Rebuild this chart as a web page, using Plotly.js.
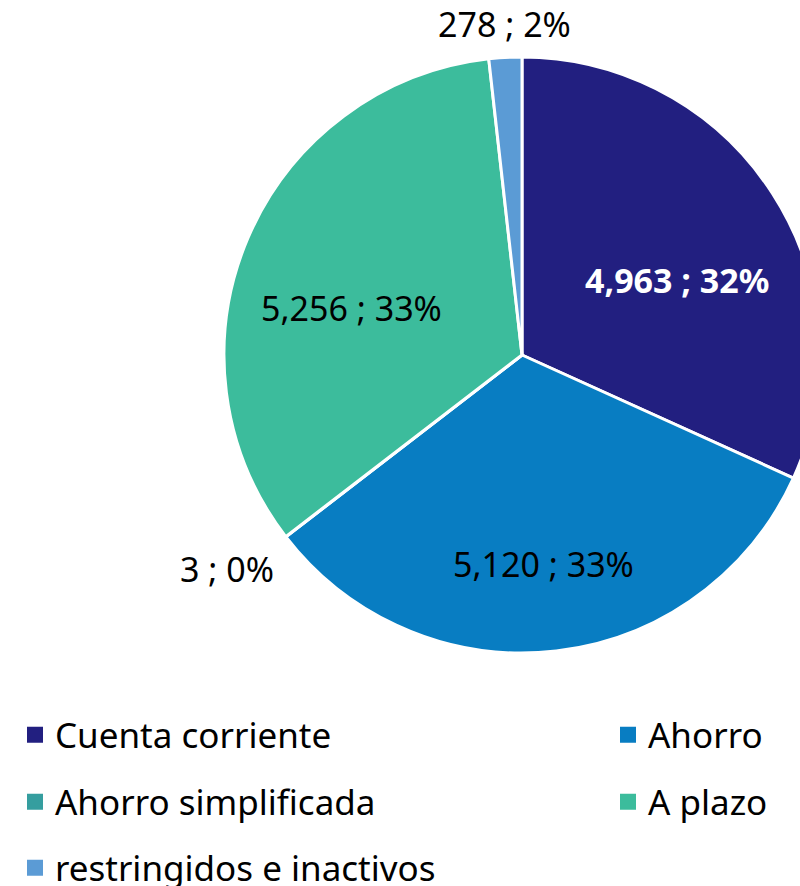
<!DOCTYPE html>
<html>
<head>
<meta charset="utf-8">
<script src="https://cdn.plot.ly/plotly-3.0.1.min.js"></script>
<style>
html,body{margin:0;padding:0;background:#fff;overflow:hidden;width:800px;height:886px;}
#chart{width:1300px;height:886px;}
</style>
</head>
<body>
<div id="chart"></div>
<script>
const categories = ['Cuenta corriente', 'Ahorro', 'Ahorro simplificada', 'A plazo', 'restringidos e inactivos'];
const values = [4963, 5120, 3, 5256, 278];
const pctLabels = ['32%', '33%', '0%', '33%', '2%'];
const colors = ['#221F80', '#087DC2', '#359E9F', '#3CBC9C', '#5B9BD5'];
const textColors = ['#FFFFFF', '#000000', '#000000', '#000000', '#000000'];
const textBold = [true, false, false, false, false];
const textPositions = ['inside', 'inside', 'outside', 'inside', 'outside'];

const W = 1300, H = 886;
const cx = 522, cy = 355, R = 298;

const traces = [{
  type: 'pie',
  labels: categories,
  values: values,
  textinfo: 'none',
  sort: false,
  direction: 'clockwise',
  rotation: 0,
  marker: {colors: colors, line: {color: '#FFFFFF', width: 3}},
  showlegend: false,
  hoverinfo: 'none',
  domain: {x: [(cx - R) / W, (cx + R) / W], y: [(H - cy - R) / H, (H - cy + R) / H]}
}];

const legendIds = ['legend', 'legend2', 'legend3'];
categories.forEach((c, i) => {
  traces.push({
    type: 'scatter', x: [null], y: [null], mode: 'markers',
    name: c, legend: legendIds[Math.floor(i / 2)],
    marker: {symbol: 'square', size: 17, color: colors[i]},
    showlegend: true, hoverinfo: 'none'
  });
});

// data labels placed from the cumulative value angles
const total = values.reduce((a, b) => a + b, 0);
const fmt = v => v.toLocaleString('en-US');
const annotations = [];
let cum = 0;
values.forEach((v, i) => {
  const mid = (cum + v / 2) / total * 2 * Math.PI;
  cum += v;
  const s = Math.sin(mid), c = Math.cos(mid);
  let txt = fmt(v) + ' ; ' + pctLabels[i];
  if (textBold[i]) txt = '<b>' + txt + '</b>';
  let px, py, xa, ya, ys = 0;
  if (textPositions[i] === 'inside') {
    const r = 0.62 * R;
    px = cx + r * s; py = cy - r * c; xa = 'center'; ya = 'top';
  } else {
    const r = R + 12;
    px = cx + r * s; py = cy - r * c;
    xa = Math.abs(s) < 0.3 ? 'center' : (s > 0 ? 'left' : 'right');
    ya = Math.abs(c) < 0.3 ? 'middle' : (c > 0 ? 'bottom' : 'top');
    if (ya === 'bottom') ys = -4;
  }
  annotations.push({
    xref: 'paper', yref: 'paper', x: px / W, y: 1 - py / H,
    xanchor: xa, yanchor: ya, yshift: ys, showarrow: false, text: txt,
    font: {family: 'Noto Sans, Open Sans, sans-serif', size: 34, color: textColors[i]}
  });
});

const rowsY = [735, 802, 868];
const legendBase = {
  orientation: 'h', x: 15 / W, xanchor: 'left', yanchor: 'middle',
  font: {family: 'Noto Sans, sans-serif', size: 35, color: '#000000'},
  entrywidth: 548, entrywidthmode: 'pixels', bgcolor: 'rgba(0,0,0,0)', itemclick: false
};
const layout = {
  width: W, height: H,
  margin: {l: 0, r: 0, t: 0, b: 0, autoexpand: false},
  paper_bgcolor: '#FFFFFF', plot_bgcolor: '#FFFFFF',
  xaxis: {visible: false}, yaxis: {visible: false},
  showlegend: true,
  annotations: annotations
};
legendIds.forEach((id, k) => {
  layout[id] = Object.assign({}, legendBase, {y: 1 - rowsY[k] / H});
});

Plotly.newPlot('chart', traces, layout, {staticPlot: true, displayModeBar: false});
</script>
</body>
</html>
